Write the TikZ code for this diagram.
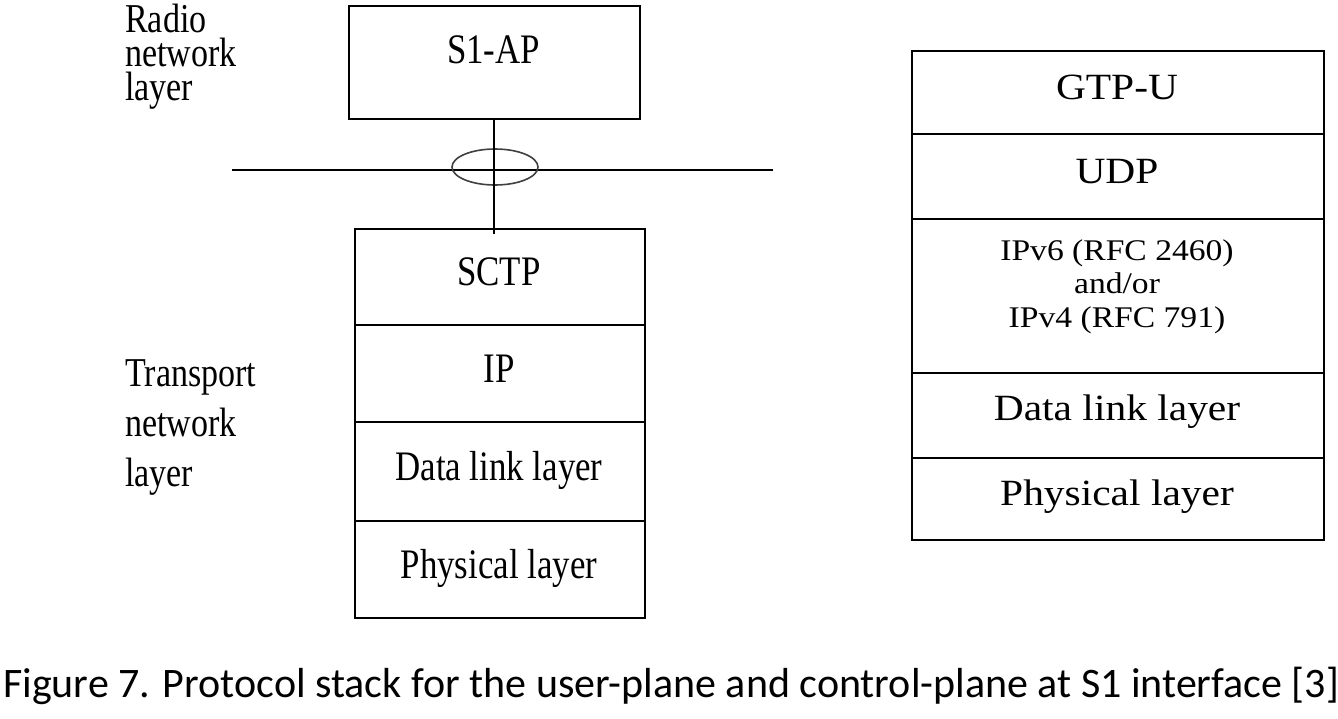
\documentclass[tikz,border=0pt]{standalone}
\usepackage{fontspec}
\setmainfont{Liberation Serif}
\newfontfamily\nserif[FakeStretch=0.83]{Liberation Serif}
\newfontfamily\wserif[FakeStretch=1.12]{Liberation Serif}
\newfontfamily\capfont{Carlito}
\usetikzlibrary{shapes.geometric}
\begin{document}
\begin{tikzpicture}[x=1pt,y=-1pt,
  cell/.style={draw,line width=2.4pt,inner sep=0pt,anchor=north west},
  ltxt/.style={inner sep=0pt,anchor=base,font=\nserif\fontsize{42}{50}\selectfont},
  side/.style={inner sep=0pt,anchor=base west,align=left},
  rtxt/.style={inner sep=0pt,anchor=base,font=\wserif\fontsize{37}{44}\selectfont},
  rsmall/.style={inner sep=0pt,anchor=base,align=center,font=\wserif\fontsize{30}{33.5}\selectfont},
  wire/.style={line width=2pt}]
\useasboundingbox (0,0) rectangle (1338,718);
% control plane
\node[cell,minimum width=291pt,minimum height=113pt] (s1ap) at (348,5) {};
\node[ltxt] (ts1ap) at (493.5,63) {S1-AP};
\node[cell,minimum width=290pt,minimum height=96pt] (sctp) at (354,228) {};
\node[cell,minimum width=290pt,minimum height=97pt] (ip) at (354,324) {};
\node[cell,minimum width=290pt,minimum height=99pt] (dl) at (354,421) {};
\node[cell,minimum width=290pt,minimum height=97pt] (ph) at (354,520) {};
\node[ltxt] (tsctp) at (499,285) {SCTP};
\node[ltxt] (tip) at (499,382) {IP};
\node[ltxt] (tdl) at (499,480) {Data link layer};
\node[ltxt] (tph) at (499,578) {Physical layer};
% interface line and ring
\coordinate (hl) at (232,170);
\coordinate (hr) at (773,170);
\draw[wire] (hl) -- (hr);
\node[ellipse,draw=black!75,line width=1.6pt,minimum width=86pt,minimum height=36pt,inner sep=0pt] (ring) at (495,167) {};
\coordinate (wend) at (494,234);
\draw[wire] (s1ap.south -| wend) -- (wend);
% side labels (anchor base = last line's baseline)
\node[side,font=\nserif\fontsize{41}{34}\selectfont] (radio) at (125,100) {Radio\\network\\layer};
\node[side,font=\nserif\fontsize{41}{50}\selectfont] (transport) at (125,486) {Transport\\network\\layer};
% user plane
\node[cell,minimum width=412pt,minimum height=83pt] (gtp) at (911,50) {};
\node[cell,minimum width=412pt,minimum height=85pt] (udp) at (911,133) {};
\node[cell,minimum width=412pt,minimum height=154pt] (ipv) at (911,218) {};
\node[cell,minimum width=412pt,minimum height=85pt] (udl) at (911,372) {};
\node[cell,minimum width=412pt,minimum height=82pt] (uph) at (911,457) {};
\node[rtxt] (tgtp) at (1117,99) {GTP-U};
\node[rtxt] (tudp) at (1117,183) {UDP};
\node[rsmall] (tip6) at (1117,327) {IPv6 (RFC 2460)\\and/or\\IPv4 (RFC 791)};
\node[rtxt] (tudl) at (1117,420) {Data link layer};
\node[rtxt] (tuph) at (1117,505) {Physical layer};
% caption
\node[inner sep=0pt,anchor=base west,font=\capfont\fontsize{42}{46}\selectfont] (cap) at (3,697) {Figure 7. Protocol stack for the user-plane and control-plane at S1 interface [3]};
\end{tikzpicture}
\end{document}
